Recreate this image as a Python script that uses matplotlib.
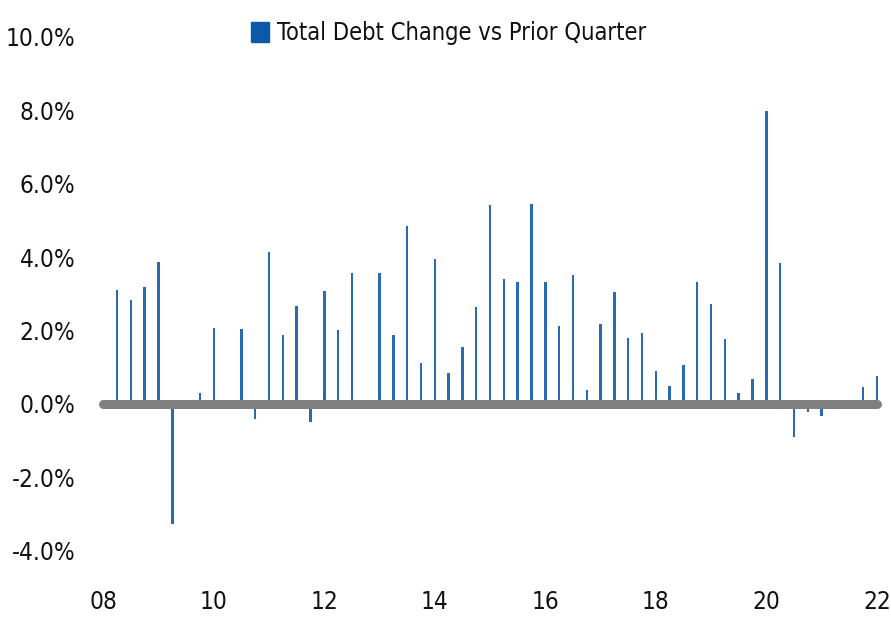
import matplotlib
matplotlib.use("Agg")
import matplotlib.pyplot as plt
from matplotlib import font_manager as fm
from matplotlib.patches import Patch

# quarterly change in total debt, %, 2008Q1 .. 2021Q4 (plotted at quarter end)
quarters = [2008.25 + 0.25 * i for i in range(56)]
debt_change = [
    3.10, 2.82, 3.18, 3.88,    # 2008
    -3.27, 0.00, 0.30, 2.06,   # 2009
    0.00, 2.04, -0.40, 4.15,   # 2010
    1.88, 2.68, -0.48, 3.07,   # 2011
    2.02, 3.56, 0.00, 3.56,    # 2012
    1.88, 4.86, 1.11, 3.95,    # 2013
    0.85, 1.56, 2.65, 5.42,    # 2014
    3.40, 3.32, 5.45, 3.31,    # 2015
    2.13, 3.52, 0.38, 2.18,    # 2016
    3.05, 1.80, 1.94, 0.89,    # 2017
    0.50, 1.06, 3.31, 2.72,    # 2018
    1.78, 0.29, 0.67, 7.99,    # 2019
    3.85, -0.91, -0.21, -0.34, # 2020
    0.00, 0.00, 0.47, 0.75,    # 2021
]
xticks = [2008, 2010, 2012, 2014, 2016, 2018, 2020, 2022]
xtick_labels = ["08", "10", "12", "14", "16", "18", "20", "22"]
yticks = [-4, -2, 0, 2, 4, 6, 8, 10]
series_name = "Total Debt Change vs Prior Quarter"

# pick the narrowest regular face we have
names = {f.name for f in fm.fontManager.ttflist}
cond = [f for f in fm.fontManager.ttflist
        if f.name == "DejaVu Sans" and "ondensed" in str(f.stretch) + f.fname
        and f.style == "normal" and f.weight in (400, "normal", "regular", "book")]
if "Liberation Sans Narrow" in names:
    font = fm.FontProperties(family="Liberation Sans Narrow")
elif cond:
    font = fm.FontProperties(fname=cond[0].fname)
else:
    font = fm.FontProperties(family="Liberation Sans")

bar_color = "#2a6ab5"

fig = plt.figure(figsize=(8.91, 6.17), dpi=100)
ax = fig.add_axes([0.1035, 0.1075, 0.893, 0.8326])

ax.bar(quarters, debt_change, width=0.045, color=bar_color, zorder=2)
ax.plot([quarters[0] - 0.25, quarters[-1]], [0, 0], color="#808080",
        lw=6.5, solid_capstyle="round", zorder=3)

ax.set_xlim(2007.8, 2022.2)
ax.set_ylim(-4, 10)
ax.set_xticks(xticks)
ax.set_xticklabels(xtick_labels)
ax.set_yticks(yticks)
ax.set_yticklabels([f"{v:.1f}%" for v in yticks])
for lab in ax.get_xticklabels() + ax.get_yticklabels():
    lab.set_fontproperties(font)
    lab.set_fontsize(17.5)
    lab.set_color("#111111")
ax.tick_params(axis="x", length=0, pad=28)
ax.tick_params(axis="y", length=0, pad=12)
for s in ax.spines.values():
    s.set_visible(False)

leg_font = font.copy()
leg_font.set_size(17)
fig.legend(handles=[Patch(color="#0a5aa8", label=series_name)],
           loc="center", bbox_to_anchor=(449 / 891, 1 - 33 / 617),
           frameon=False, prop=leg_font, handlelength=0.75, handleheight=0.9,
           handletextpad=0.35, labelcolor="#111111")

fig.savefig("out.png", dpi=100)
